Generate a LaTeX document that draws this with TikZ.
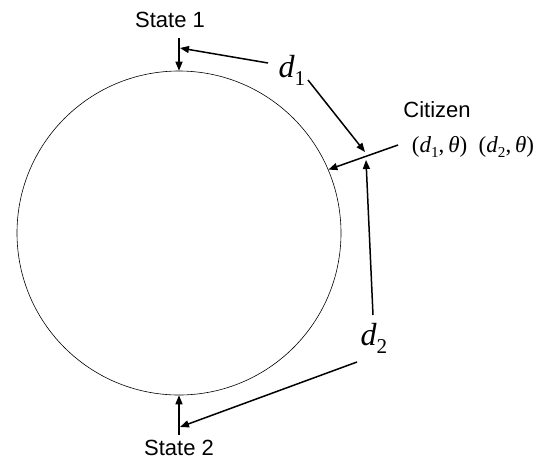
\documentclass[tikz,border=0pt]{standalone}
\usepackage{fontspec}
\setmainfont{Liberation Sans}
\newfontfamily\tnr{Liberation Serif}
\usetikzlibrary{arrows.meta}

\newcommand{\dsub}[1]{\raisebox{-0.25em}{\scalebox{0.66}{#1}}}

\tikzset{
  ptr/.style={-{Triangle[length=9pt,width=7pt]}, line width=1.5pt},
  lbl/.style={font=\fontsize{22}{24}\selectfont, inner sep=0pt},
  dist/.style={font=\tnr\fontsize{32}{34}\selectfont, inner sep=0pt},
  coordlbl/.style={font=\tnr\fontsize{23}{25}\selectfont, inner sep=0pt}
}

\begin{document}
\begin{tikzpicture}[x=1pt, y=-1pt]
    \useasboundingbox (0,0) rectangle (544,459);
    % Circle
    \node[circle, draw, line width=0.6pt, minimum size=324pt, inner sep=0pt] (c) at (179,233) {};
    % States
    \node[lbl] (s1) at (170,20) {State 1};
    \node[lbl] (s2) at (179,448) {State 2};
    \coordinate (s1top) at (179,38);
    \coordinate (s1mid) at (180,48);
    \coordinate (s2bot) at (179,435);
    \coordinate (s2mid) at (180,427);
    \draw[ptr] (s1top) -- (c.north);
    \draw[ptr] (s2bot) -- (c.south);
    % Citizen
    \node[lbl] (cit) at (437,110) {Citizen};
    \node[coordlbl] (xy) at (473,147) {({\itshape d}\dsub{1},\,{\itshape θ})\enspace({\itshape d}\dsub{2},\,{\itshape θ})};
    \coordinate (cz) at (398,145);
    \coordinate (czup) at (365,152);
    \coordinate (czlow) at (366,160);
    \draw[ptr] (cz) -- (c.23.7);
    % Distances
    \node[dist] (d1) at (292,70) {{\itshape d}\dsub{1}};
    \node[dist] (d2) at (374,338) {{\itshape d}\dsub{2}};
    \coordinate (d1a) at (268,63);
    \coordinate (d1b) at (308,80);
    \coordinate (d2a) at (373,315);
    \coordinate (d2b) at (357,362);
    \draw[ptr] (d1a) -- (s1mid);
    \draw[ptr] (d1b) -- (czup);
    \draw[ptr] (d2a) -- (czlow);
    \draw[ptr] (d2b) -- (s2mid);
\end{tikzpicture}
\end{document}
